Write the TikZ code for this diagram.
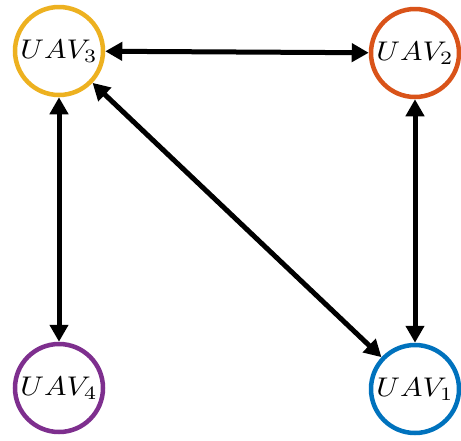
\documentclass[tikz,border=0pt]{standalone}
\usepackage{graphicx}
\usetikzlibrary{arrows.meta}
\definecolor{uavyellow}{RGB}{237,177,32}
\definecolor{uavorange}{RGB}{217,83,25}
\definecolor{uavpurple}{RGB}{126,47,142}
\definecolor{uavblue}{RGB}{0,114,189}
\newcommand{\uavlabel}[1]{\scalebox{3.0}[2.7]{$UAV_{#1}$}}
\begin{document}
\begin{tikzpicture}[x=1pt,y=-1pt,
  uav/.style={circle,draw=#1,line width=4.5pt,fill=white,minimum size=88pt,inner sep=0pt},
  link/.style={line width=5pt,{Triangle[length=17pt,width=18pt]}-{Triangle[length=17pt,width=18pt]}}]
  \useasboundingbox (0,0) rectangle (461,440);
  % the four drones
  \node[uav=uavyellow] (u3) at (59,51)  {\uavlabel{3}};
  \node[uav=uavorange] (u2) at (415,53) {\uavlabel{2}};
  \node[uav=uavpurple] (u4) at (59,388) {\uavlabel{4}};
  \node[uav=uavblue]   (u1) at (415,389) {\uavlabel{1}};
  % communication links
  \draw[link] (u3) -- (u2);
  \draw[link] (u3) -- (u4);
  \draw[link] (u2) -- (u1);
  \draw[link] (u3) -- (u1);
\end{tikzpicture}
\end{document}
